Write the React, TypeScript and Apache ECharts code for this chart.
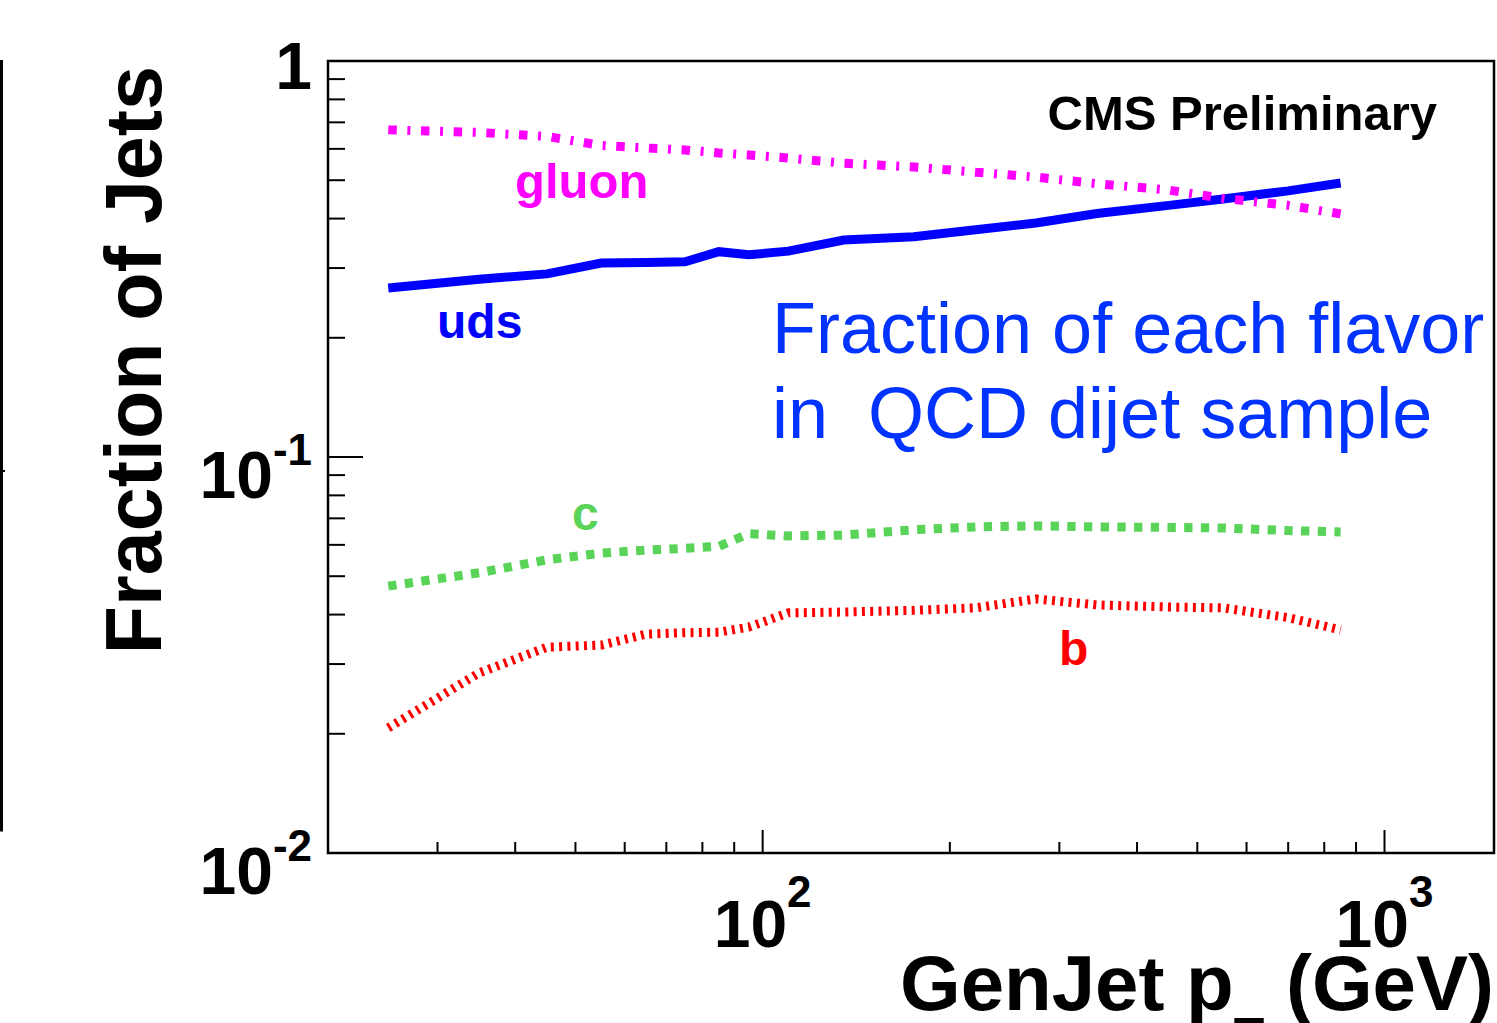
import React, { useEffect, useRef } from 'react';
import * as echarts from 'echarts';

// GenJet pT bin centres (GeV)
const PT = [25, 35, 45, 55, 65, 75, 85, 95, 110, 135, 175, 220, 275, 345, 450, 550, 700, 850];
// Fraction of jets per flavour
const UDS = [0.267, 0.281, 0.29, 0.309, 0.31, 0.311, 0.33, 0.324, 0.331, 0.353, 0.36, 0.375, 0.39, 0.412, 0.432, 0.448, 0.47, 0.492];
const GLUON = [0.67, 0.66, 0.645, 0.612, 0.603, 0.596, 0.586, 0.579, 0.569, 0.552, 0.54, 0.524, 0.509, 0.49, 0.472, 0.45, 0.432, 0.411];
const CHARM = [0.0472, 0.051, 0.055, 0.0572, 0.0582, 0.0588, 0.0595, 0.064, 0.0632, 0.0635, 0.0655, 0.0666, 0.067, 0.0666, 0.0664, 0.0662, 0.0652, 0.0647];
const BOTTOM = [0.0207, 0.0285, 0.0331, 0.0335, 0.0357, 0.036, 0.0361, 0.0372, 0.0404, 0.0406, 0.041, 0.0416, 0.0438, 0.0423, 0.0418, 0.0416, 0.0393, 0.0366];

// axis tick values
const X_MAJOR = [100, 1000];
const X_MINOR = [30, 40, 50, 60, 70, 80, 90, 200, 300, 400, 500, 600, 700, 800, 900];
const Y_MAJOR = [0.01, 0.1, 1];
const Y_MINOR = [0.02, 0.03, 0.04, 0.05, 0.06, 0.07, 0.08, 0.09, 0.2, 0.3, 0.4, 0.5, 0.6, 0.7, 0.8, 0.9];

const X_MIN = 20;
const X_MAX = 1500;
const Y_MIN = 0.01;
const Y_MAX = 1;

const FONT = '"Liberation Sans", Arial, Helvetica, sans-serif';

const pairs = (ys: number[]) => PT.map((x, i) => [x, ys[i]]);

function tok(size: number, lh: number, va: string, extra: any = {}) {
  return { fontSize: size, lineHeight: lh, verticalAlign: va, fontWeight: 'bold', fontFamily: FONT, color: '#000', ...extra };
}

export default function App() {
  const ref = useRef<HTMLDivElement>(null);
  useEffect(() => {
    const chart = echarts.init(ref.current!, null, { renderer: 'svg' });
    const option: any = {
      animation: false,
      backgroundColor: '#fff',
      grid: { left: 328, top: 61, right: 2, bottom: 170, show: true, borderColor: '#000', borderWidth: 2.5, backgroundColor: 'transparent' },
      xAxis: {
        type: 'log',
        logBase: 10,
        min: X_MIN,
        max: X_MAX,
        axisLine: { show: false },
        axisTick: { show: false },
        splitLine: { show: false },
        minorTick: { show: false },
        axisLabel: {
          margin: 16,
          formatter: (v: number) => {
            const l = Math.log10(v);
            const e = Math.round(l);
            if (Math.abs(l - e) > 1e-6) return '';
            return `{b|10}{s|${e}}`;
          },
          rich: {
            b: tok(66, 88, 'bottom'),
            s: tok(44, 44, 'top'),
          },
        },
      },
      yAxis: {
        type: 'log',
        logBase: 10,
        min: Y_MIN,
        max: Y_MAX,
        axisLine: { show: false },
        axisTick: { show: false },
        splitLine: { show: false },
        axisLabel: {
          margin: 16,
          formatter: (v: number) => {
            const l = Math.log10(v);
            const e = Math.round(l);
            if (Math.abs(l - e) > 1e-6) return '';
            if (e === 0) return '{one|1}';
            return `{yb|10}{ys|${e}}`;
          },
          rich: {
            yb: tok(66, 102, 'bottom'),
            ys: tok(44, 44, 'bottom', { padding: [0, 0, 37, 0] }),
            one: tok(66, 76, 'bottom'),
          },
        },
      },
      series: [
        {
          name: 'uds',
          type: 'line',
          data: pairs(UDS),
          showSymbol: false,
          lineStyle: { color: '#0000ff', width: 9, cap: 'butt', join: 'miter' },
          z: 2,
        },
        {
          name: 'gluon',
          type: 'line',
          data: pairs(GLUON),
          showSymbol: false,
          lineStyle: { color: '#ff00ff', width: 9, type: [8.5, 10.6, 3, 10.6], cap: 'butt' },
          z: 3,
        },
        {
          name: 'c',
          type: 'line',
          data: pairs(CHARM),
          showSymbol: false,
          lineStyle: { color: '#59d459', width: 9, type: [8.3, 8.4], cap: 'butt' },
          z: 3,
        },
        {
          name: 'b',
          type: 'line',
          data: pairs(BOTTOM),
          showSymbol: false,
          lineStyle: { color: '#ff0000', width: 9, type: [3, 5.3], cap: 'butt' },
          z: 3,
        },
        {
          name: 'xticks',
          type: 'custom',
          silent: true,
          z: 5,
          dimensions: ['x', 'y', 'len'],
          encode: { x: 0, y: 1 },
          data: [...X_MAJOR.map((v) => [v, Y_MIN, 23]), ...X_MINOR.map((v) => [v, Y_MIN, 11])],
          renderItem: (_p: any, api: any) => {
            const pt = api.coord([api.value(0), api.value(1)]);
            const len = api.value(2);
            return { type: 'line', shape: { x1: pt[0], y1: pt[1], x2: pt[0], y2: pt[1] - len }, style: { stroke: '#000', lineWidth: 2 } };
          },
        },
        {
          name: 'yticks',
          type: 'custom',
          silent: true,
          z: 5,
          dimensions: ['x', 'y', 'len'],
          encode: { x: 0, y: 1 },
          data: [...Y_MAJOR.map((v) => [X_MIN, v, 35]), ...Y_MINOR.map((v) => [X_MIN, v, 17])],
          renderItem: (_p: any, api: any) => {
            const pt = api.coord([api.value(0), api.value(1)]);
            const len = api.value(2);
            return { type: 'line', shape: { x1: pt[0], y1: pt[1], x2: pt[0] + len, y2: pt[1] }, style: { stroke: '#000', lineWidth: 2 } };
          },
        },
      ],
      graphic: [
        // neighbouring panel edge at the far left
        { type: 'polyline', shape: { points: [[1.5, 60], [1.5, 830], [-5, 830]] }, style: { stroke: '#000', lineWidth: 3, fill: 'none' } },
        { type: 'line', shape: { x1: 0, y1: 471, x2: 5, y2: 471 }, style: { stroke: '#000', lineWidth: 2 } },
        // y title
        {
          type: 'text', x: 133, y: 66, rotation: Math.PI / 2,
          style: { text: 'Fraction of Jets', font: `bold 79px ${FONT}`, fill: '#000', align: 'right', verticalAlign: 'middle' },
        },
        // x title
        {
          type: 'text', x: 1494, y: 944,
          style: {
            text: '{a|GenJet p}{t|T}{a| (GeV)}', align: 'right', verticalAlign: 'top',
            rich: {
              a: { fontSize: 78, lineHeight: 78, verticalAlign: 'top', fontWeight: 'bold', fontFamily: FONT, fill: '#000' },
              t: { fontSize: 50, lineHeight: 117, verticalAlign: 'bottom', fontWeight: 'bold', fontFamily: FONT, fill: '#000' },
            },
          },
        },
        {
          type: 'text', x: 1437, y: 113,
          style: { text: 'CMS Preliminary', font: `bold 49px ${FONT}`, fill: '#000', align: 'right', verticalAlign: 'middle' },
        },
        {
          type: 'text', x: 515, y: 181,
          style: { text: 'gluon', font: `bold 49px ${FONT}`, fill: '#ff00ff', align: 'left', verticalAlign: 'middle' },
        },
        {
          type: 'text', x: 437, y: 321,
          style: { text: 'uds', font: `bold 48px ${FONT}`, fill: '#0000ff', align: 'left', verticalAlign: 'middle' },
        },
        {
          type: 'text', x: 572, y: 513,
          style: { text: 'c', font: `bold 48px ${FONT}`, fill: '#59d459', align: 'left', verticalAlign: 'middle' },
        },
        {
          type: 'text', x: 1059, y: 648,
          style: { text: 'b', font: `bold 48px ${FONT}`, fill: '#ff0000', align: 'left', verticalAlign: 'middle' },
        },
        {
          type: 'text', x: 772, y: 328,
          style: { text: 'Fraction of each flavor', font: `72px ${FONT}`, fill: '#0033ff', align: 'left', verticalAlign: 'middle' },
        },
        {
          type: 'text', x: 772, y: 413,
          style: { text: 'in  QCD dijet sample', font: `72px ${FONT}`, fill: '#0033ff', align: 'left', verticalAlign: 'middle' },
        },
      ],
    };
    chart.setOption(option);
    return () => chart.dispose();
  }, []);
  return (
    <div
      ref={ref}
      style={{ position: 'fixed', left: 0, top: 0, width: 1497, height: 1023, background: '#fff' }}
    />
  );
}
